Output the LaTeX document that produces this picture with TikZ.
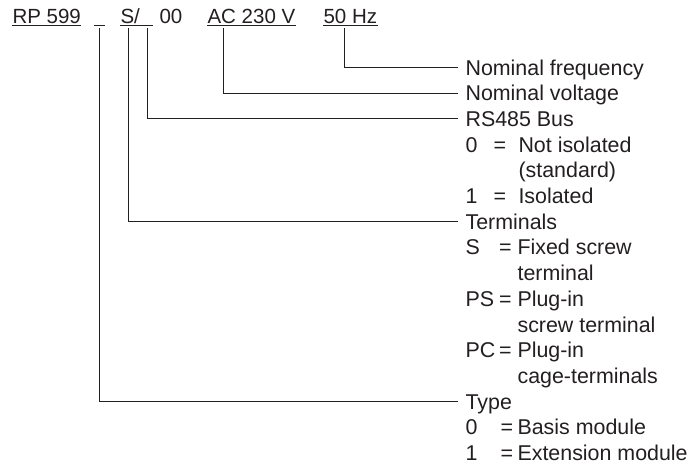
\documentclass[tikz,border=0pt]{standalone}
\usepackage{fontspec}
\setmainfont{Liberation Sans}
\usepackage{tikz}
\definecolor{ink}{HTML}{231F20}

\begin{document}
\begin{tikzpicture}[x = 1pt, y = -1pt, line width = 1.1pt, color = ink,
                    code/.style = {anchor = base west, inner sep = 0pt, font = \fontsize{20.5}{25.7}\selectfont},
                    entry/.style = {anchor = base west, inner sep = 0pt, font = \fontsize{21.4}{25.7}\selectfont}]
\useasboundingbox (0,0) rectangle (694,466);

% order code
\node [code] (rp) at (12,23) {RP 599};
\node [code] (typ) at (94,23) {\hspace*{10pt}};
\node [code] (trm) at (120,23) {S/};
\node [code] (bus) at (140,23) {\hspace*{12pt}};
\node [code] (nul) at (159,23) {00};
\node [code] (volt) at (207,23) {AC 230 V};
\node [code] (hz) at (323,23) {50 Hz};

\foreach \n in {rp, typ, trm, bus, volt, hz}
  \draw [line width = 1pt] ([yshift=-2.2pt]\n.base west) -- ([yshift=-2.2pt]\n.base east);

% frequency, voltage, bus
\node [entry] (Lhz) at (465,75) {Nominal frequency};
\node [entry] (Lvolt) at (465,100.7) {Nominal voltage};
\node [entry] (Lbus) at (465,126.4) {RS485 Bus};
\node [entry] at (465,152.1) {\makebox[28pt][l]{0}\makebox[25pt][l]{=}Not isolated};
\node [entry] at (518,177.8) {(standard)};
\node [entry] at (465,203.5) {\makebox[28pt][l]{1}\makebox[25pt][l]{=}Isolated};

% terminals
\node [entry] (Ltrm) at (465,229.2) {Terminals};
\node [entry] at (465,254.9) {\makebox[33.5pt][l]{S}\makebox[18.5pt][l]{=}Fixed screw};
\node [entry] at (517,280.6) {terminal};
\node [entry] at (465,306.3) {\makebox[33.5pt][l]{PS}\makebox[18.5pt][l]{=}Plug-in};
\node [entry] at (517,332) {screw terminal};
\node [entry] at (465,357.7) {\makebox[33.5pt][l]{PC}\makebox[18.5pt][l]{=}Plug-in};
\node [entry] at (517,383.4) {cage-terminals};

% type
\node [entry] (Ltyp) at (465,409.1) {Type};
\node [entry] at (465,434.8) {\makebox[35pt][l]{0}\makebox[17pt][l]{=}Basis module};
\node [entry] at (465,460.5) {\makebox[35pt][l]{1}\makebox[17pt][l]{=}Extension module};

\draw ([xshift=-6pt,yshift=-5pt]hz.base) |- ([shift={(-7pt,7.5pt)}]Lhz.base west);
\draw ([xshift=-28pt,yshift=-5pt]volt.base) |- ([shift={(-7pt,7.5pt)}]Lvolt.base west);
\draw ([xshift=1pt,yshift=-5pt]bus.base) |- ([shift={(-7pt,7.5pt)}]Lbus.base west);
\draw ([xshift=-1.5pt,yshift=-5pt]trm.base) |- ([shift={(-7pt,7.5pt)}]Ltrm.base west);
\draw ([yshift=-5pt]typ.base) |- ([shift={(-7pt,7.5pt)}]Ltyp.base west);
\end{tikzpicture}
\end{document}
